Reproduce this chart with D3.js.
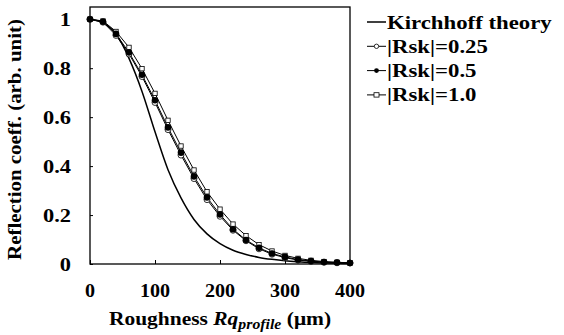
<!DOCTYPE html>
<html>
<head>
<meta charset="utf-8">
<script src="https://cdn.jsdelivr.net/npm/d3@7"></script>
<style>
  html, body { margin: 0; padding: 0; background: #fff; }
  svg { display: block; }
  text { font-family: "Liberation Serif", "Times New Roman", serif; font-weight: bold; fill: #000; }
</style>
</head>
<body>
<div id="chart"></div>
<script>
// roughness Rq (um) sampled every 20
const roughness = [0, 20, 40, 60, 80, 100, 120, 140, 160, 180, 200, 220, 240, 260, 280, 300, 320, 340, 360, 380, 400];
const kirchhoff = [1, 0.985, 0.94, 0.84, 0.705, 0.54, 0.385, 0.27, 0.182, 0.123, 0.083, 0.056, 0.039, 0.027, 0.019, 0.013, 0.009, 0.006, 0.004, 0.003, 0.002];
const rsk025 = [1, 0.988, 0.934, 0.858, 0.766, 0.66, 0.549, 0.445, 0.349, 0.263, 0.195, 0.138, 0.095, 0.062, 0.04, 0.026, 0.016, 0.011, 0.007, 0.005, 0.004];
const rsk05 = [1, 0.99, 0.94, 0.864, 0.773, 0.669, 0.558, 0.455, 0.358, 0.272, 0.202, 0.142, 0.098, 0.066, 0.043, 0.029, 0.018, 0.012, 0.008, 0.006, 0.004];
const rsk10 = [1, 0.993, 0.95, 0.885, 0.798, 0.697, 0.587, 0.482, 0.384, 0.295, 0.224, 0.163, 0.116, 0.079, 0.053, 0.035, 0.023, 0.015, 0.01, 0.007, 0.005];
const xTicks = [0, 100, 200, 300, 400];
const yTicks = [0, 0.2, 0.4, 0.6, 0.8, 1];
const legendLabels = ['Kirchhoff theory', '|Rsk|=0.25', '|Rsk|=0.5', '|Rsk|=1.0'];

const width = 564;
const height = 335;
const margin = { top: 7, right: 214, bottom: 71, left: 90 };
const fontSize = 19;

const svg = d3.select('#chart')
  .append('svg')
  .attr('width', width)
  .attr('height', height);

const x = d3.scaleLinear().domain([0, 400]).range([margin.left, width - margin.right]);
const y = d3.scaleLinear().domain([0, 1.05]).range([height - margin.bottom, margin.top]);

const toPoints = vals => roughness.map((r, i) => ({ r: r, v: vals[i] }));
const line = d3.line().x(d => x(d.r)).y(d => y(d.v));

// axes: ticks pointing inward, labels placed manually
const xAxis = d3.axisBottom(x).tickValues(xTicks).tickSize(-4).tickFormat('');
const yAxis = d3.axisLeft(y).tickValues(yTicks).tickSize(-3).tickFormat('');

svg.append('g')
  .attr('transform', `translate(0, ${y(0)})`)
  .call(xAxis)
  .call(g => g.select('.domain').remove())
  .selectAll('line').attr('stroke', '#000').attr('stroke-width', 1);
svg.append('g')
  .attr('transform', `translate(${x(0)}, 0)`)
  .call(yAxis)
  .call(g => g.select('.domain').remove())
  .selectAll('line').attr('stroke', '#000').attr('stroke-width', 1);

// frame
svg.append('rect')
  .attr('x', x(0))
  .attr('y', margin.top)
  .attr('width', x(400) - x(0))
  .attr('height', y(0) - margin.top)
  .attr('fill', 'none')
  .attr('stroke', '#000')
  .attr('stroke-width', 1.3);

// the original type is a wide bold Times, so text gets stretched horizontally
svg.append('g')
  .selectAll('text')
  .data(xTicks)
  .join('text')
  .attr('transform', d => `translate(${x(d)}, 297) scale(1.06, 1)`)
  .attr('text-anchor', 'middle')
  .attr('font-size', fontSize)
  .text(d => d);

svg.append('g')
  .selectAll('text')
  .data(yTicks)
  .join('text')
  .attr('transform', d => `translate(71, ${y(d) + 6.5}) scale(1.18, 1)`)
  .attr('text-anchor', 'end')
  .attr('font-size', fontSize)
  .text(d => d);

// axis titles
const xTitle = svg.append('text')
  .attr('transform', `translate(${(x(0) + x(400)) / 2}, 325) scale(1.13, 1)`)
  .attr('text-anchor', 'middle')
  .attr('font-size', fontSize);
xTitle.append('tspan').text('Roughness ');
xTitle.append('tspan').attr('font-style', 'italic').text('Rq');
xTitle.append('tspan').attr('font-style', 'italic').attr('font-size', 14).attr('dy', 4).text('profile');
xTitle.append('tspan').attr('dy', -4).text(' (\u03bcm)');

svg.append('text')
  .attr('transform', `translate(21, ${(y(0) + margin.top) / 2 + 4}) rotate(-90) scale(1.1, 1)`)
  .attr('text-anchor', 'middle')
  .attr('font-size', fontSize)
  .text('Reflection coeff. (arb. unit)');

// curves
svg.append('path')
  .datum(toPoints(kirchhoff))
  .attr('d', line.curve(d3.curveMonotoneX))
  .attr('fill', 'none')
  .attr('stroke', '#000')
  .attr('stroke-width', 1.5);

line.curve(d3.curveLinear);
[rsk10, rsk025, rsk05].forEach(vals => {
  svg.append('path')
    .datum(toPoints(vals))
    .attr('d', line)
    .attr('fill', 'none')
    .attr('stroke', '#000')
    .attr('stroke-width', 1);
});

svg.append('g')
  .selectAll('rect')
  .data(toPoints(rsk10))
  .join('rect')
  .attr('x', d => x(d.r) - 2.2)
  .attr('y', d => y(d.v) - 2.2)
  .attr('width', 4.4)
  .attr('height', 4.4)
  .attr('fill', '#fff')
  .attr('stroke', '#000')
  .attr('stroke-width', 0.8);

svg.append('g')
  .selectAll('circle')
  .data(toPoints(rsk025))
  .join('circle')
  .attr('cx', d => x(d.r))
  .attr('cy', d => y(d.v))
  .attr('r', 3)
  .attr('fill', '#fff')
  .attr('stroke', '#000')
  .attr('stroke-width', 0.8);

svg.append('g')
  .selectAll('circle')
  .data(toPoints(rsk05))
  .join('circle')
  .attr('cx', d => x(d.r))
  .attr('cy', d => y(d.v))
  .attr('r', 3.3)
  .attr('fill', '#000');

// legend
const legend = svg.append('g');
const rowY = i => 22 + i * 24.3;
legendLabels.forEach((label, i) => {
  const row = legend.append('g').attr('transform', `translate(0, ${rowY(i)})`);
  row.append('line')
    .attr('x1', 367).attr('x2', 386)
    .attr('y1', 0).attr('y2', 0)
    .attr('stroke', '#000')
    .attr('stroke-width', i === 0 ? 1.5 : 1);
  if (i === 1) {
    row.append('circle').attr('cx', 376.5).attr('cy', 0).attr('r', 2.2)
      .attr('fill', '#fff').attr('stroke', '#000').attr('stroke-width', 0.8);
  } else if (i === 2) {
    row.append('circle').attr('cx', 376.5).attr('cy', 0).attr('r', 2.4).attr('fill', '#000');
  } else if (i === 3) {
    row.append('rect').attr('x', 374).attr('y', -2.2).attr('width', 5).attr('height', 4.4)
      .attr('fill', '#fff').attr('stroke', '#000').attr('stroke-width', 0.8);
  }
  row.append('text')
    .attr('transform', 'translate(387, 6.5) scale(1.2, 1)')
    .attr('font-size', fontSize)
    .text(label);
});
</script>
</body>
</html>
